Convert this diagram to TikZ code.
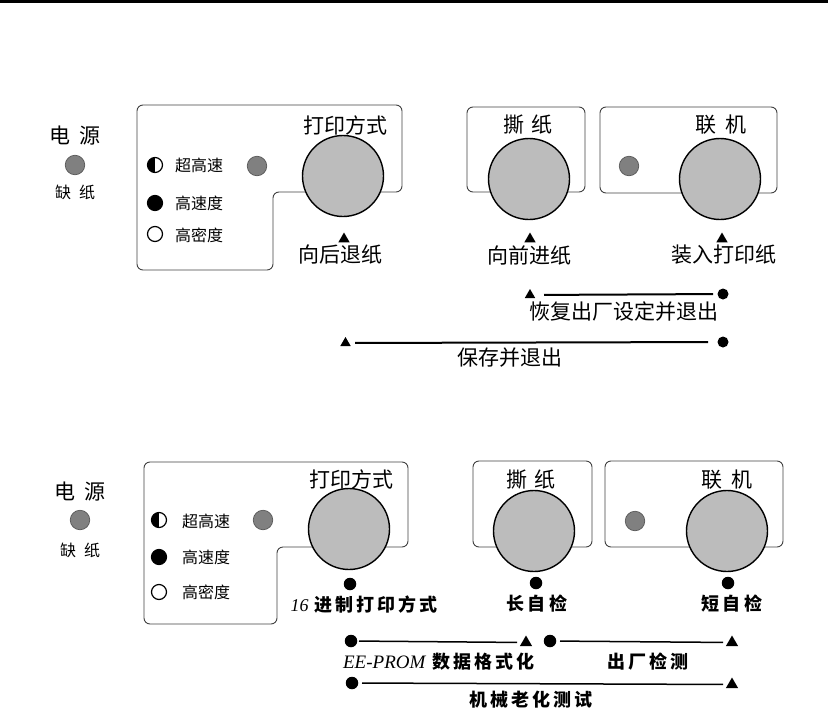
\documentclass[tikz,border=0pt]{standalone}
\usepackage{fontspec}
\setmainfont{Noto Sans CJK SC}
\newfontfamily\hwfont[LetterSpace=17]{Noto Sans CJK SC}
\newfontfamily\hwlatin{Liberation Serif}
\usetikzlibrary{shapes.geometric}
\definecolor{knobgray}{RGB}{188,188,188}
\definecolor{ledgray}{RGB}{128,128,128}
\tikzset{
 panel/.style={draw=black!75, line width=0.9pt, rounded corners=6pt},
 knob/.style={circle, draw=black, line width=1.4pt, fill=knobgray, minimum size=81pt, inner sep=0pt},
 led/.style={circle, draw=black!65, line width=0.7pt, fill=ledgray, minimum size=19.5pt, inner sep=0pt},
 sym/.style={circle, draw=black, line width=1.2pt, minimum size=15pt, inner sep=0pt},
 symfull/.style={sym, fill=black},
 symhalf/.style={sym, path picture={\fill (path picture bounding box.south west) rectangle (path picture bounding box.north);}},
 mtri/.style={regular polygon, regular polygon sides=3, fill=black, inner sep=0pt, minimum size=13pt},
 mtris/.style={mtri, minimum size=12pt},
 mtrib/.style={mtri, minimum size=14pt},
 mdot/.style={circle, fill=black, inner sep=0pt, minimum size=12.5pt},
 mdots/.style={mdot, minimum size=11pt},
 big/.style={inner sep=0pt, font=\fontsize{21}{21}\selectfont},
 small/.style={inner sep=0pt, font=\fontsize{16}{16}\selectfont},
 hw/.style={inner sep=0pt, font=\hwfont\bfseries\fontsize{18}{18}\selectfont},
 conn/.style={line width=2pt},
 connb/.style={line width=1.5pt},
}
\begin{document}
\begin{tikzpicture}[x=1pt,y=-1pt]
\useasboundingbox (0,0) rectangle (828,718);
\fill (0,0) rectangle (828,3);

% ===== top panel =====
\node[big] (pwA) at (75,136) {电\hspace{0.4em}源};
\node[led] (ledpA) at (75,165) {};
\node[small] (lpA) at (75,192) {缺\hspace{0.5em}纸};

\draw[panel] (137,105) -- (402,105) -- (402,192) -- (273,192) -- (273,270) -- (137,270) -- cycle;
\draw[panel] (467,107) rectangle (585,192);
\draw[panel] (600,107) rectangle (777,193);

\node[knob] (kA1) at (343,176) {};
\node[knob] (kA2) at (529,179) {};
\node[knob] (kA3) at (720,179) {};

\node[led] (ledmA) at (257,166) {};
\node[led] (ledoA) at (629,166) {};

\node[symhalf] (sA1) at (155,165) {};
\node[symfull] (sA2) at (155,203) {};
\node[sym] (sA3) at (155,234) {};
\node[small] (tA1) at (199,165) {超高速};
\node[small] (tA2) at (199,203) {高速度};
\node[small] (tA3) at (199,235) {高密度};

\node[big] (hA1) at (345,125) {打印方式};
\node[big] (hA2) at (528,125) {撕\hspace{0.3em}纸};
\node[big] (hA3) at (721,125) {联\hspace{0.4em}机};

\node[mtri] (mA1) at (344,239) {};
\node[mtri] (mA2) at (530,239) {};
\node[mtri] (mA3) at (722,239) {};
\node[big] (bA1) at (340,255) {向后退纸};
\node[big] (bA2) at (529,255) {向前进纸};
\node[big] (bA3) at (724,255) {装入打印纸};

\node[mtris] (rA1) at (530,295) {};
\node[mdots] (dA1) at (723,294) {};
\draw[conn, shorten <=14pt, shorten >=10pt] (rA1.center) -- (dA1.center);
\node[big] (lA1) at (624,312) {恢复出厂设定并退出};

\node[mtris] (rA2) at (345.5,343) {};
\node[mdots] (dA2) at (723,342) {};
\draw[conn, shorten <=9.5pt, shorten >=15pt] (rA2.center) -- (dA2.center);
\node[big] (lA2) at (510,357.5) {保存并退出};

% ===== bottom panel =====
\node[big] (pwB) at (80,492) {电\hspace{0.4em}源};
\node[led] (ledpB) at (80,520) {};
\node[small] (lpB) at (80,550) {缺\hspace{0.5em}纸};

\draw[panel] (144,462) -- (408,462) -- (408,547) -- (277,547) -- (277,624) -- (144,624) -- cycle;
\draw[panel] (473,461) rectangle (592,547);
\draw[panel] (605,461) rectangle (783,547);

\node[knob] (kB1) at (349,529) {};
\node[knob] (kB2) at (534,531) {};
\node[knob] (kB3) at (727,531) {};

\node[led] (ledmB) at (263,520) {};
\node[led] (ledoB) at (635,521) {};

\node[symhalf] (sB1) at (159,520) {};
\node[symfull] (sB2) at (159,557) {};
\node[sym] (sB3) at (159,592) {};
\node[small] (tB1) at (206,521) {超高速};
\node[small] (tB2) at (206,557) {高速度};
\node[small] (tB3) at (206,592) {高密度};

\node[big] (hB1) at (351,479) {打印方式};
\node[big] (hB2) at (531,480) {撕\hspace{0.35em}纸};
\node[big] (hB3) at (727,480) {联\hspace{0.4em}机};

\node[mdot] (mB1) at (350,584) {};
\node[mdot] (mB2) at (536,583) {};
\node[mdot] (mB3) at (728,583) {};
\node[hw] (bB1) at (364,605) {{\hwlatin\mdseries\itshape 16}\hspace{0.3em}进制打印方式};
\node[hw] (bB2) at (537,604) {长自检};
\node[hw] (bB3) at (732,604) {短自检};

\node[mdot] (dB1) at (351,641) {};
\node[mtrib] (rB1) at (526,642.5) {};
\draw[connb, shorten <=8pt, shorten >=9pt] (dB1.center) -- (rB1.center);
\node[mdot] (dB2) at (550,641) {};
\node[mtrib] (rB2) at (732,642.5) {};
\draw[connb, shorten <=10pt, shorten >=9pt] (dB2.center) -- (rB2.center);
\node[hw] (lB1) at (439,662) {{\hwlatin\mdseries\itshape\fontsize{19}{19}\selectfont EE-PROM}\hspace{0.4em}数据格式化};
\node[hw] (lB2) at (648,662) {出厂检测};

\node[mdot] (dB3) at (352,683) {};
\node[mtrib] (rB3) at (732,684.5) {};
\draw[connb, shorten <=10pt, shorten >=9pt] (dB3.center) -- (rB3.center);
\node[hw] (lB3) at (531,700) {机械老化测试};
\end{tikzpicture}
\end{document}
